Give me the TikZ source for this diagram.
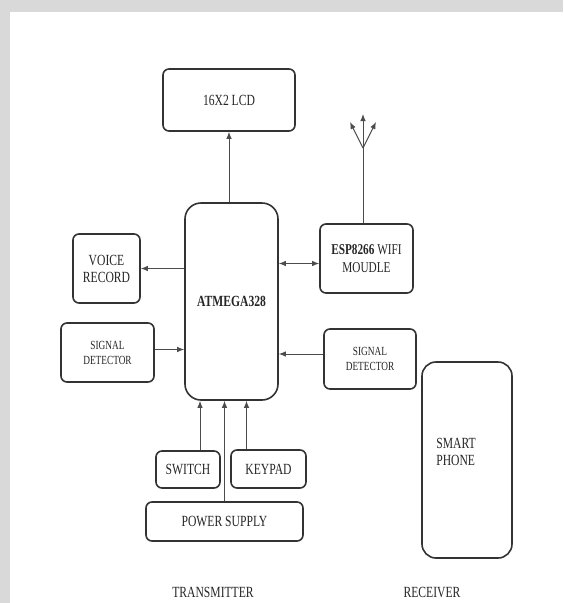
\documentclass[tikz,border=0pt]{standalone}
\usepackage{fontspec}
\setmainfont{Liberation Serif}[FakeStretch=0.75]
\usetikzlibrary{arrows.meta}
\begin{document}
\begin{tikzpicture}[x=1pt,y=-1pt,
  blk/.style={draw=black!80, line width=1.6pt, rounded corners=6pt, inner sep=0pt, align=center, text=black!85, font=\fontsize{15.5}{17}\selectfont},
  small/.style={font=\fontsize{12.4}{15}\selectfont},
  conn/.style={draw=black!70, line width=1pt, -{Latex[length=7pt,width=5.5pt]}},
  wire/.style={draw=black!70, line width=1pt},
  lbl/.style={text=black!85, font=\fontsize{15.5}{17}\selectfont, align=left, inner sep=0pt}
]
\fill[black!15] (0,0) rectangle (563,603);
\fill[white] (10,12) rectangle (563,603);
\useasboundingbox (0,0) rectangle (563,603);

\node[blk, minimum width=132pt, minimum height=62pt] (lcd) at (229,100) {16X2 LCD};
\node[blk, rounded corners=16pt, minimum width=93pt, minimum height=197pt, font=\bfseries\fontsize{15.5}{17}\selectfont] (atm) at (231.5,301.5) {ATMEGA328};
\node[blk, minimum width=67pt, minimum height=69pt] (voice) at (106.5,268.5) {VOICE\\RECORD};
\node[blk, small, minimum width=93pt, minimum height=59pt] (sigl) at (107.5,352.5) {SIGNAL\\DETECTOR};
\node[blk, font=\fontsize{15}{18}\selectfont, minimum width=93pt, minimum height=69pt] (esp) at (366.5,258.5) {\textbf{ESP8266} WIFI\\MOUDLE};
\node[blk, small, minimum width=92pt, minimum height=60pt] (sigr) at (370,359) {SIGNAL\\DETECTOR};
\node[blk, rounded corners=14pt, minimum width=90pt, minimum height=196pt] (phone) at (467,460) {};
\node[lbl] (phonetxt) at (456,452) {SMART\\PHONE};
\node[blk, minimum width=64pt, minimum height=37pt] (switch) at (188,469.5) {SWITCH};
\node[blk, minimum width=75pt, minimum height=38pt] (keypad) at (268.5,469) {KEYPAD};
\node[blk, minimum width=157pt, minimum height=39pt] (power) at (224.5,521.5) {POWER SUPPLY};

\node[lbl] (tx) at (213,592) {TRANSMITTER};
\node[lbl] (rx) at (432,592) {RECEIVER};

% connectors
\draw[conn] (atm.north -| lcd.south) -- (lcd.south);
\draw[conn] (atm.west |- voice.east) -- (voice.east);
\draw[conn] ([yshift=3pt]sigl.east) -- ([yshift=3pt]sigl.east -| atm.west);
\draw[conn, {Latex[length=7pt,width=5.5pt]}-{Latex[length=7pt,width=5.5pt]}] ([yshift=-5pt]esp.west -| atm.east) -- ([yshift=-5pt]esp.west);
\draw[conn] ([yshift=5pt]sigr.west) -- ([yshift=5pt]sigr.west -| atm.east);
\draw[conn] ([xshift=12pt]switch.north) -- ([xshift=12pt]switch.north |- atm.south);
\draw[conn] (power.north) -- (power.north |- atm.south);
\draw[conn] ([xshift=-22pt]keypad.north) -- ([xshift=-22pt]keypad.north |- atm.south);

% antenna
\coordinate (fork) at (363,148);
\coordinate (a1) at (363,114);
\coordinate (a2) at (350,122);
\coordinate (a3) at (376,122);
\draw[wire] (fork |- esp.north) -- (fork);
\draw[conn] (fork) -- (a1);
\draw[conn] (fork) -- (a2);
\draw[conn] (fork) -- (a3);
\end{tikzpicture}
\end{document}
